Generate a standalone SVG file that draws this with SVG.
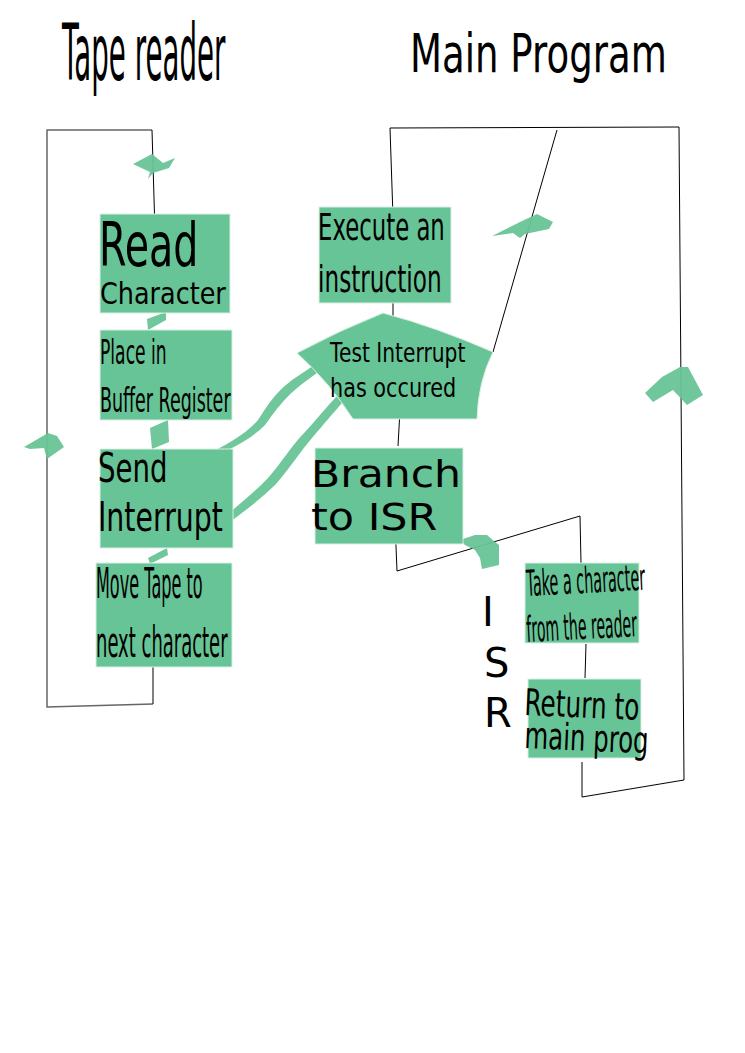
<svg xmlns="http://www.w3.org/2000/svg" width="745" height="1053" viewBox="0 0 745 1053">
<style>
.box{fill:#67c496;stroke:#d8efe2;stroke-width:1}
.g{fill:#67c496;opacity:0.95}
.t{font-family:"DejaVu Sans",sans-serif;fill:#000}
.ln{fill:none;stroke:#000;stroke-width:1}
.gl{fill:none;stroke:#666;stroke-width:1.5}
</style>
<rect width="745" height="1053" fill="#fff"/>

<g id="titles">
<text class="t" font-size="78" transform="translate(62,80) scale(0.355,1)">Tape reader</text>
<text class="t" font-size="53" transform="translate(410,72) scale(0.70,1)">Main Program</text>
</g>

<g id="connectors">
<!-- tape reader loop -->
<polyline class="gl" points="152,130 47,130 47,707 153,704"/>
<polyline class="ln" points="152,130 155,232"/>
<polyline class="ln" points="153,704 153,643"/>
<line x1="150" y1="565" x2="162" y2="565" stroke="#000" stroke-width="3"/>
<!-- main loop -->
<polyline class="ln" points="393,217 390,128 679,127 684,780 582,797 582,762"/>
<line class="ln" x1="393" y1="300" x2="393" y2="320"/>
<line class="ln" x1="557" y1="130" x2="493" y2="352"/>
<line class="ln" x1="400" y1="410" x2="398" y2="446"/>
<polyline class="ln" points="395,522 397,571 580,516 581,563"/>
<line class="ln" x1="586" y1="644" x2="585" y2="678"/>
<!-- green connector shapes -->
<polygon class="g" points="133,164 152,154 163,163 175,158 169,168 153,173 148,179 150,172"/>
<polygon class="g" points="147,319 166,312 166,320 148,330"/>
<polygon class="g" points="150,428 168,420 169,442 152,449"/>
<polygon class="g" points="148,558 167,548 168,555 150,564"/>
<polygon class="g" points="24,447 48,433 57,436 64,447 47,459 44,448 30,449"/>
<polygon class="g" points="492,236 520,222 537,214 553,222 549,229 525,234 520,238 513,233"/>
<polygon class="g" points="645,393 662,377 680,367 688,367 703,395 687,405 673,390 653,402"/>
<polygon class="g" points="460,540 475,535 487,535 495,542 499,545 499,565 482,569 480,558 475,550 465,545"/>
<path class="g" d="M205,456 C225,445 245,435 258,420 C268,405 275,392 295,378 C310,368 325,358 340,345 L346,352 C330,364 315,374 302,384 C285,397 276,410 265,425 C250,440 230,450 207,459 Z"/>
<path class="g" d="M226,516 C240,503 255,492 268,478 C282,462 292,445 305,432 C318,418 328,405 338,395 L343,402 C334,412 324,424 312,438 C300,452 290,468 276,484 C262,498 246,510 230,522 Z"/>
</g>

<g id="n-read">
<rect class="box" x="100" y="214" width="130" height="99"/>
<text class="t" font-size="60" transform="translate(99,266) scale(0.66,1)">Read</text>
<text class="t" font-size="30" transform="translate(100,304) scale(0.85,1)">Character</text>
</g>
<g id="n-place">
<rect class="box" x="100" y="330" width="132" height="90"/>
<text class="t" font-size="33" transform="translate(100,364) scale(0.52,1)">Place in</text>
<text class="t" font-size="33" transform="translate(100,412) scale(0.53,1)">Buffer Register</text>
</g>
<g id="n-send">
<rect class="box" x="100" y="449" width="133" height="99"/>
<text class="t" font-size="40" transform="translate(98,482) scale(0.69,1)">Send</text>
<text class="t" font-size="40" transform="translate(98,531) scale(0.71,1)">Interrupt</text>
</g>
<g id="n-move">
<rect class="box" x="96" y="563" width="136" height="104"/>
<text class="t" font-size="43" transform="translate(96,598) scale(0.374,1)">Move Tape to</text>
<text class="t" font-size="43" transform="translate(96,657) scale(0.418,1)">next character</text>
</g>
<g id="n-execute">
<rect class="box" x="319" y="207" width="132" height="96"/>
<text class="t" font-size="38" transform="translate(318,240) scale(0.60,1)">Execute an</text>
<text class="t" font-size="38" transform="translate(318,292) scale(0.61,1)">instruction</text>
</g>
<g id="n-test">
<path class="box" d="M383,313 Q436,327 493,352 Q478,382 477,419 L353,419 Q330,383 297,353 Q340,330 383,313 Z"/>
<text class="t" font-size="27" transform="translate(330,362) scale(0.75,1)">Test Interrupt</text>
<text class="t" font-size="27" transform="translate(330,397) scale(0.77,1)">has occured</text>
</g>
<g id="n-branch">
<rect class="box" x="315" y="448" width="148" height="96"/>
<text class="t" font-size="37" transform="translate(311,487) scale(1.15,1)">Branch</text>
<text class="t" font-size="37" transform="translate(311,530) scale(1.16,1)">to ISR</text>
</g>
<g id="n-take">
<rect class="box" x="525" y="563" width="114" height="80"/>
<text class="t" font-size="36" transform="translate(527,596) rotate(-3) scale(0.40,1)">Take a character</text>
<text class="t" font-size="36" transform="translate(527,642) rotate(-3) scale(0.39,1)">from the reader</text>
</g>
<g id="n-return">
<rect class="box" x="528" y="679" width="113" height="79"/>
<text class="t" font-size="37" transform="translate(524,715) rotate(2.5) scale(0.67,1)">Return to</text>
<text class="t" font-size="37" transform="translate(524,748) rotate(2.5) scale(0.66,1)">main prog</text>
</g>
<g id="isr-label">
<text class="t" font-size="40" x="482" y="626">I</text>
<text class="t" font-size="40" x="484" y="677">S</text>
<text class="t" font-size="40" x="484" y="727">R</text>
</g>
</svg>
